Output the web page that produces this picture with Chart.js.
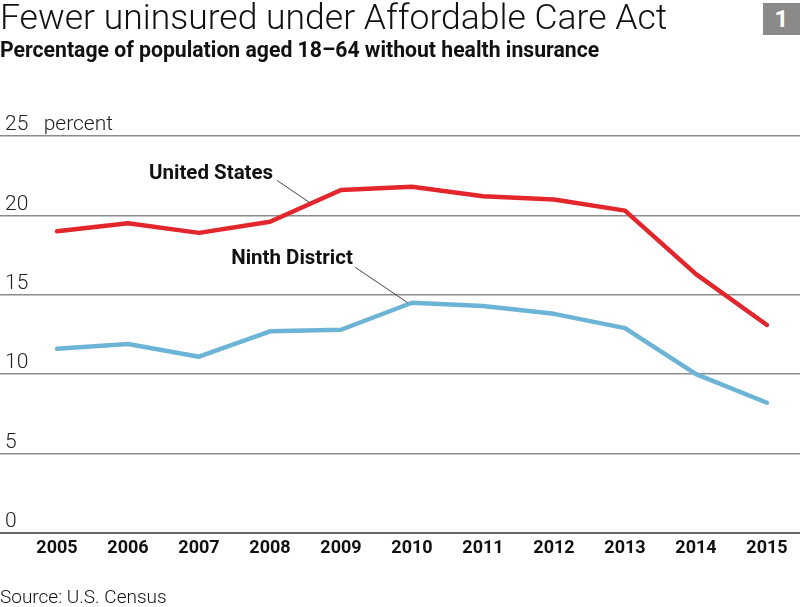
<!DOCTYPE html>
<html>
<head>
<meta charset="utf-8">
<script src="https://cdn.jsdelivr.net/npm/chart.js@4"></script>
<style>
  html, body { margin: 0; padding: 0; background: #fff; }
  body { width: 800px; height: 607px; position: relative; overflow: hidden; font-family: Roboto, sans-serif; color: #111; }
  #title { position: absolute; left: 0; top: -4px; font-size: 35.5px; font-weight: 300; white-space: nowrap; }
  #subtitle { position: absolute; left: 0; top: 37px; font-size: 21.2px; font-weight: 700; white-space: nowrap; }
  #badge { position: absolute; left: 763px; top: 3px; width: 37px; height: 32px; background: #8a8a8a; color: #fff; font-size: 24px; font-weight: 700; text-align: center; line-height: 32px; }
  #source { position: absolute; left: 0; top: 585px; font-size: 19px; font-weight: 300; white-space: nowrap; }
  #wrap { position: absolute; left: 0; top: 0; width: 800px; height: 607px; }
</style>
</head>
<body>
<div id="wrap"><canvas id="chart"></canvas></div>
<div id="title">Fewer uninsured under Affordable Care Act</div>
<div id="subtitle">Percentage of population aged 18–64 without health insurance</div>
<div id="badge">1</div>
<div id="source">Source: U.S. Census</div>
<script>
// values
const years = [2005, 2006, 2007, 2008, 2009, 2010, 2011, 2012, 2013, 2014, 2015];
const unitedStates = [19.0, 19.5, 18.9, 19.6, 21.6, 21.8, 21.2, 21.0, 20.3, 16.3, 13.1];
const ninthDistrict = [11.6, 11.9, 11.1, 12.7, 12.8, 14.5, 14.3, 13.8, 12.9, 10.0, 8.2];
const yTicks = [0, 5, 10, 15, 20, 25];

// series labels with leader lines, placed in data space
const callouts = [
  { text: "United States", at: [2007.17, 22.6], from: [2008.1, 22.2], to: [2008.56, 20.8] },
  { text: "Ninth District", at: [2008.31, 17.25], from: [2009.2, 16.73], to: [2009.94, 14.5] },
];

const toPoints = (vals) => vals.map((v, i) => ({ x: years[i], y: v }));

const calloutPlugin = {
  id: "callouts",
  afterDatasetsDraw(chart) {
    const { ctx, scales } = chart;
    const x = scales.x, y = scales.y;
    ctx.save();
    callouts.forEach((c) => {
      ctx.strokeStyle = "#444";
      ctx.lineWidth = 1;
      ctx.beginPath();
      ctx.moveTo(x.getPixelForValue(c.from[0]), y.getPixelForValue(c.from[1]));
      ctx.lineTo(x.getPixelForValue(c.to[0]), y.getPixelForValue(c.to[1]));
      ctx.stroke();
      ctx.fillStyle = "#111";
      ctx.font = "700 20.5px Roboto";
      ctx.textAlign = "center";
      ctx.textBaseline = "middle";
      ctx.fillText(c.text, x.getPixelForValue(c.at[0]), y.getPixelForValue(c.at[1]));
    });
    ctx.restore();
  },
};

const ctx = document.getElementById("chart").getContext("2d");
const chart = new Chart(ctx, {
  type: "line",
  data: {
    datasets: [
      {
        label: "United States",
        data: toPoints(unitedStates),
        borderColor: "#e2262c",
        borderWidth: 4.5,
        borderCapStyle: "round",
        borderJoinStyle: "round",
        pointRadius: 0,
        fill: false,
      },
      {
        label: "Ninth District",
        data: toPoints(ninthDistrict),
        borderColor: "#6cb4d6",
        borderWidth: 4.5,
        borderCapStyle: "round",
        borderJoinStyle: "round",
        pointRadius: 0,
        fill: false,
      },
    ],
  },
  options: {
    responsive: true,
    maintainAspectRatio: false,
    animation: false,
    layout: { padding: { top: 136, bottom: 44, left: 0, right: 0 } },
    plugins: { legend: { display: false }, tooltip: { enabled: false } },
    scales: {
      x: {
        type: "linear",
        min: 2004.197,
        max: 2015.465,
        grid: { display: false },
        border: { display: false },
        afterBuildTicks: (axis) => { axis.ticks = years.map((v) => ({ value: v })); },
        afterFit: (axis) => { axis.height = 30; },
        ticks: {
          autoSkip: false,
          maxRotation: 0,
          padding: -2,
          color: "#111",
          font: { family: "Roboto", size: 18, weight: "700", lineHeight: 1 },
          callback: (v) => String(v),
        },
      },
      y: {
        min: 0,
        max: 25,
        afterBuildTicks: (axis) => { axis.ticks = yTicks.map((v) => ({ value: v })); },
        afterFit: (axis) => { axis.width = 0; },
        border: { display: false },
        grid: {
          color: (c) => (c.tick && c.tick.value === 0 ? "#666" : "#8c8c8c"),
          lineWidth: (c) => (c.tick && c.tick.value === 0 ? 2 : 1.5),
          drawTicks: false,
        },
        ticks: {
          mirror: true,
          padding: 5,
          labelOffset: -11,
          color: "#222",
          font: { family: "Roboto", size: 21, weight: "300" },
          callback: (v) => (v === 25 ? "25   percent" : String(v)),
        },
      },
    },
  },
  plugins: [calloutPlugin],
});
</script>
</body>
</html>
